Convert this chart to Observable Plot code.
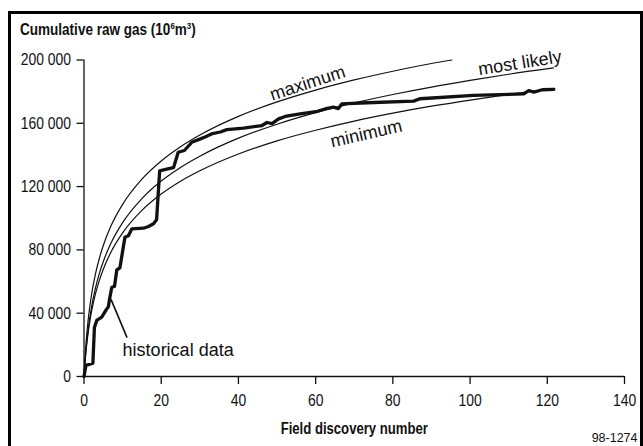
<!DOCTYPE html>
<html>
<head>
<meta charset="utf-8">
<script src="https://cdn.jsdelivr.net/npm/d3@7"></script>
<script src="https://cdn.jsdelivr.net/npm/@observablehq/plot@0.6"></script>
<style>
  html, body { margin: 0; padding: 0; background: #fff; }
  #fig { position: relative; width: 643px; height: 446px; overflow: hidden; background: #fff; }
  #chart { position: absolute; left: 0; top: 0; }
  #frame { position: absolute; left: 8px; top: 11px; width: 635px; height: 460px; box-sizing: border-box;
           border: 3.5px solid #000; border-bottom: none; pointer-events: none; }
  #title { position: absolute; left: 19.5px; top: 19px; white-space: nowrap; color: #111;
           font-family: "Liberation Sans Narrow", "Arial Narrow", "Liberation Sans", sans-serif;
           font-weight: bold; font-size: 16.5px; line-height: 20px;
           transform: scaleX(0.82); transform-origin: 0 0; }
  #title .sup { position: relative; top: -0.65em; font-size: 0.58em; }
</style>
</head>
<body>
<div id="fig">
  <div id="chart"></div>
  <div id="frame"></div>
  <div id="title">Cumulative raw gas (10<span class="sup">6</span>m<span class="sup">3</span>)</div>
</div>
<script>
// Historical cumulative discovered volume (10^6 m^3) by field discovery number
const fieldNo = [0, 0.5, 2.3, 2.7, 3.3, 4.6, 5.7, 6.3, 6.7, 7.2, 7.9, 8.5, 9.3, 10.6, 11.5, 12.4, 15.4, 16.7, 18,
  18.8, 19.6, 21.4, 23.2, 24.4, 26, 27.9, 30, 31.5, 33.3, 35.3, 37, 41.3, 46.1, 47.4, 48.7, 50.4, 52.1, 56,
  60.5, 63, 64.6, 65.9, 66.8, 73.3, 85.4, 87, 100.9, 113.9, 115.2, 116.5, 118.7, 121.7];
const historicalGas = [0, 7000, 8400, 31000, 35400, 37500, 42000, 44000, 50000, 56400, 56900, 67400, 68700, 88000,
  89000, 93300, 93700, 94800, 96500, 99000, 130000, 131000, 132000, 141700, 142800, 148000, 150000, 151500,
  153500, 154500, 156000, 157000, 158600, 160500, 159800, 162800, 164300, 166000, 167600, 169500, 170200,
  169300, 172300, 173000, 174000, 175500, 177600, 178600, 180700, 179700, 181200, 181500];

// Fitted discovery-process curves
const maximumX = [0, 0.25, 0.5, 1, 1.5, 2, 3, 4, 5, 7, 10, 15, 20, 25, 30, 40, 50, 60, 70, 80, 90, 95.3];
const maximumY = [0, 11400, 20300, 34000, 44100, 52400, 65100, 74900, 82800, 95200, 108800, 124700, 136200,
  145200, 152600, 164400, 173500, 181000, 187400, 192900, 197800, 200000];
const likelyX = [0, 0.25, 0.5, 1, 1.5, 2, 3, 4, 5, 7, 10, 15, 20, 25, 30, 40, 50, 60, 70, 80, 90, 100, 110, 121.6];
const likelyY = [0, 9000, 16400, 28100, 37200, 44600, 56200, 65300, 72700, 84300, 97200, 112400, 123500, 132100,
  139200, 150600, 159400, 166700, 172900, 178200, 182900, 187100, 191000, 195000];
const minimumX = [0, 0.25, 0.5, 1, 1.5, 2, 3, 4, 5, 7, 10, 15, 20, 25, 30, 40, 50, 60, 70, 80, 90, 100, 110, 121.6];
const minimumY = [0, 8400, 15400, 26200, 34700, 41600, 52500, 60900, 67800, 78700, 90800, 105000, 115300, 123400,
  130000, 140600, 148900, 155600, 161400, 166400, 170800, 174700, 178300, 182000];

// Axis ticks
const xTicks = [0, 20, 40, 60, 80, 100, 120, 140];
const yTicks = [0, 40000, 80000, 120000, 160000, 200000];
const yTickLabels = ["0", "40 000", "80 000", "120 000", "160 000", "200 000"];
const xTitle = "Field discovery number";

// Curve annotations
const curveNames = ["maximum", "most likely", "minimum"];
const curveLabelX = [57.9, 112.9, 73.1];
const curveLabelY = [185400, 198100, 153400];
const curveLabelAngle = [-18, -9, -13];

const historyLabel = "historical data";
const historyLabelAt = [10.0, 16300];
const pointerFrom = [7.0, 48700];
const pointerTo = [11.15, 24600];

const rows = (xs, ys) => xs.map((x, i) => ({x, y: ys[i]}));
const yLabelOf = new Map(yTicks.map((t, i) => [t, yTickLabels[i]]));
const labels = curveNames.map((text, i) => ({text, x: curveLabelX[i], y: curveLabelY[i], a: curveLabelAngle[i]}));

const ink = "#111";
const narrow = "'Liberation Sans Narrow', 'Arial Narrow', 'Liberation Sans', sans-serif";
const plain = "'Liberation Sans', Arial, Helvetica, sans-serif";

const chart = Plot.plot({
  width: 643,
  height: 446,
  marginLeft: 83.5,
  marginRight: 19,
  marginTop: 59.5,
  marginBottom: 70,
  x: {domain: [0, 140]},
  y: {domain: [0, 200000]},
  style: {fontFamily: narrow, fontSize: "17px", color: ink, background: "transparent", overflow: "visible"},
  marks: [
    Plot.line(rows(maximumX, maximumY), {x: "x", y: "y", curve: "monotone-x", stroke: ink, strokeWidth: 1.2}),
    Plot.line(rows(likelyX, likelyY), {x: "x", y: "y", curve: "monotone-x", stroke: ink, strokeWidth: 1.2}),
    Plot.line(rows(minimumX, minimumY), {x: "x", y: "y", curve: "monotone-x", stroke: ink, strokeWidth: 1.2}),
    Plot.line(rows(fieldNo, historicalGas), {x: "x", y: "y", stroke: ink, strokeWidth: 3.3, strokeLinejoin: "round"}),
    Plot.link([{}], {x1: () => pointerFrom[0], y1: () => pointerFrom[1], x2: () => pointerTo[0], y2: () => pointerTo[1],
      stroke: ink, strokeWidth: 1.6}),
    Plot.ruleX([0], {stroke: ink, strokeWidth: 1.3}),
    Plot.ruleY([0], {stroke: ink, strokeWidth: 1.3}),
    Plot.axisX({ticks: xTicks, tickSize: 8, tickPadding: 9, tickFormat: d => String(d), strokeWidth: 1.3, label: null}),
    Plot.axisY({ticks: yTicks, tickSize: 7, tickPadding: 6, tickFormat: d => yLabelOf.get(d), strokeWidth: 1.3, label: null}),
    Plot.text(labels, {x: "x", y: "y", text: "text", rotate: "a", textAnchor: "middle", lineAnchor: "middle",
      fontFamily: plain, fontSize: 18, fill: ink}),
    Plot.text([historyLabel], {x: () => historyLabelAt[0], y: () => historyLabelAt[1], text: d => d,
      textAnchor: "start", lineAnchor: "middle", fontFamily: plain, fontSize: 18, fill: ink}),
    Plot.text([xTitle], {frameAnchor: "bottom", dy: 57, lineAnchor: "bottom",
      fontWeight: "bold", fontSize: 16, fill: ink}),
    Plot.text(["98-1274"], {frameAnchor: "bottom-right", dx: 13, dy: 65.5, textAnchor: "end", lineAnchor: "bottom",
      fontFamily: plain, fontSize: 12.5, fill: ink})
  ]
});

// Condensed lettering for the axis labels: narrow each one about its own anchor
const narrowTexts = new Set([...xTicks.map(String), ...yTickLabels, xTitle]);
chart.querySelectorAll("text").forEach(t => {
  if (!narrowTexts.has(t.textContent)) return;
  const tr = t.getAttribute("transform") || "";
  t.setAttribute("transform", `${tr} scale(0.82,1)`);
});

document.getElementById("chart").append(chart);
</script>
</body>
</html>
